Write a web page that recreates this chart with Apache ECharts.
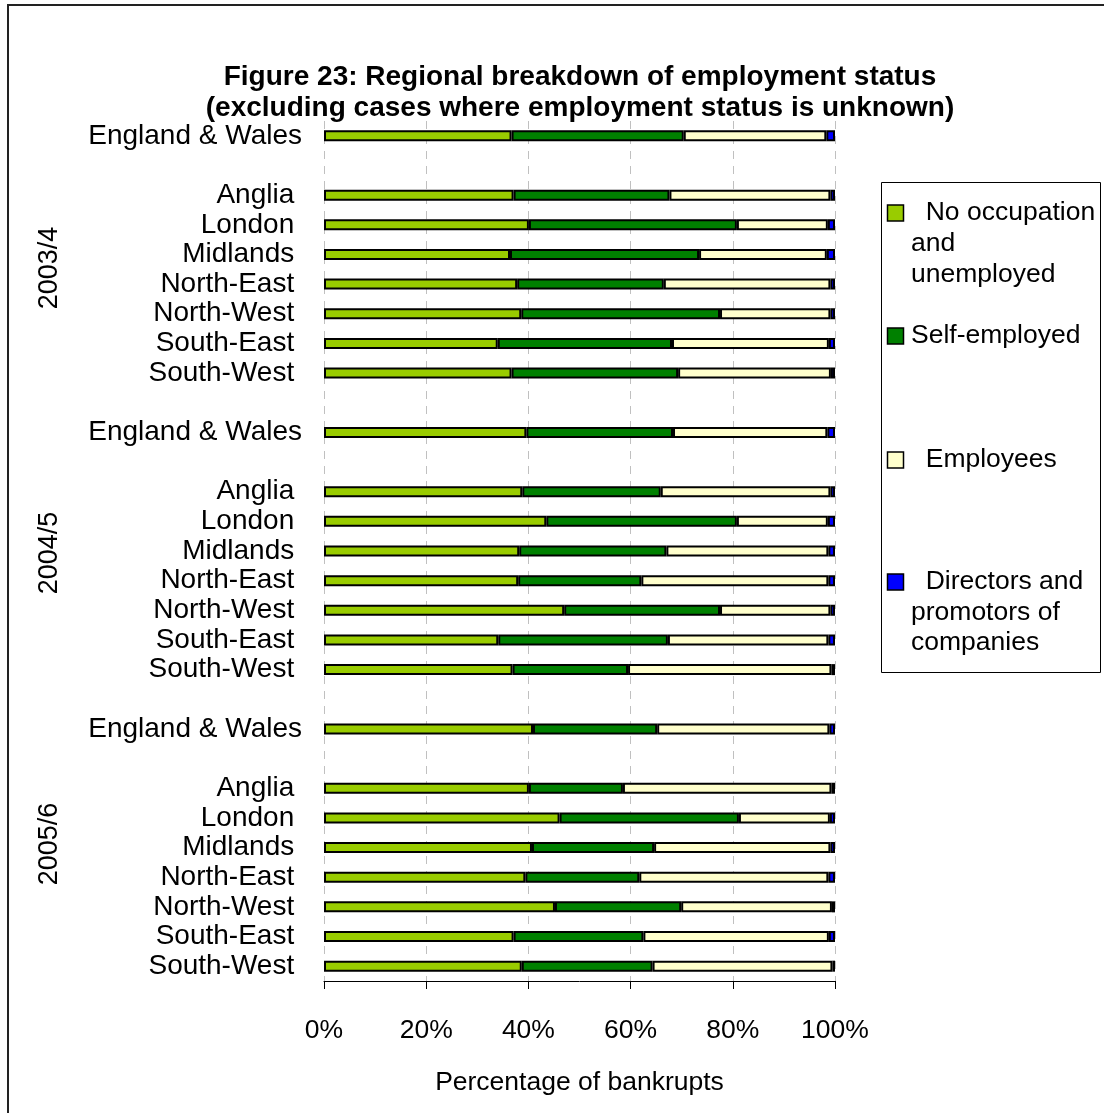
<!DOCTYPE html>
<html>
<head>
<meta charset="utf-8">
<title>Regional breakdown of employment status</title>
<script src="https://cdn.jsdelivr.net/npm/echarts@6/dist/echarts.min.js"></script>
<style>
  html, body { margin: 0; padding: 0; background: #ffffff; }
  #chart { width: 1104px; height: 1113px; }
</style>
</head>
<body>
<div id="chart"></div>
<script>
// Rows from top to bottom; empty strings are spacer rows between year groups.
const categories = [
  'England & Wales', '', 'Anglia ', 'London ', 'Midlands ', 'North-East ', 'North-West ', 'South-East ', 'South-West ', '',
  'England & Wales', '', 'Anglia ', 'London ', 'Midlands ', 'North-East ', 'North-West ', 'South-East ', 'South-West ', '',
  'England & Wales', '', 'Anglia ', 'London ', 'Midlands ', 'North-East ', 'North-West ', 'South-East ', 'South-West '
];

const yearGroups = ['2003/4', '2004/5', '2005/6'];

// Percentage of bankrupts in each employment status (per row)
const noOccupation = [36.7, null, 37.1, 40.1, 36.4, 37.8, 38.6, 34.0, 36.7, null,
                      39.6, null, 38.8, 43.5, 38.2, 38.0, 47.0, 34.1, 36.9, null,
                      40.9, null, 40.1, 46.1, 40.7, 39.4, 45.2, 37.1, 38.7];
const selfEmployed = [33.7, null, 30.5, 40.7, 37.0, 28.7, 38.9, 34.1, 32.6, null,
                      28.7, null, 27.1, 37.3, 28.8, 24.1, 30.5, 33.2, 22.6, null,
                      24.3, null, 18.4, 35.1, 23.9, 22.3, 24.7, 25.4, 25.6];
const employees    = [27.9, null, 31.5, 17.8, 25.0, 32.6, 21.6, 30.7, 29.9, null,
                      30.2, null, 33.2, 17.8, 31.7, 36.6, 21.6, 31.4, 39.8, null,
                      33.7, null, 40.8, 17.8, 34.5, 37.0, 29.5, 36.3, 35.2];
const directors    = [1.7, null, 0.9, 1.4, 1.6, 0.9, 0.9, 1.2, 0.8, null,
                      1.5, null, 0.9, 1.4, 1.3, 1.3, 0.9, 1.3, 0.7, null,
                      1.1, null, 0.7, 1.0, 0.9, 1.3, 0.6, 1.2, 0.5];

const xTicks = [0, 20, 40, 60, 80, 100];

const seriesNames = ['No occupation and unemployed', 'Self-employed', 'Employees', 'Directors and promotors of companies'];
const seriesColors = ['#99cc00', '#008000', '#ffffcc', '#0000ff'];
const seriesValues = [noOccupation, selfEmployed, employees, directors];

const FONT = '"Liberation Sans", Arial, sans-serif';

const chart = echarts.init(document.getElementById('chart'), null, { renderer: 'canvas' });

const series = seriesNames.map((name, i) => ({
  name: name,
  type: 'bar',
  stack: 'total',
  barWidth: 11,
  data: seriesValues[i],
  itemStyle: { color: seriesColors[i], borderColor: '#000000', borderWidth: 2 },
  emphasis: { disabled: true },
  animation: false
}));

// Legend box drawn beside the plot, items laid out to the right of the bars
const legendLines = [
  { color: seriesColors[0], iconY: 213, lines: [['  No occupation', 213], ['and', 244], ['unemployed', 275]] },
  { color: seriesColors[1], iconY: 336, lines: [['Self-employed', 336]] },
  { color: seriesColors[2], iconY: 460, lines: [['  Employees', 460]] },
  { color: seriesColors[3], iconY: 582, lines: [['  Directors and', 582], ['promotors of', 613], ['companies', 643]] }
];

const graphics = [
  // outer frame
  { type: 'polyline', shape: { points: [[8, 1113], [8, 5], [1104, 5]] },
    style: { stroke: '#222222', lineWidth: 2, fill: null }, silent: true },
  // legend frame
  { type: 'rect', shape: { x: 881.5, y: 182.5, width: 219, height: 490 },
    style: { fill: '#ffffff', stroke: '#000000', lineWidth: 1 }, silent: true, z: 0 }
];

legendLines.forEach(item => {
  graphics.push({ type: 'rect', shape: { x: 887.5, y: item.iconY - 8, width: 16, height: 16 },
    style: { fill: item.color, stroke: '#000000', lineWidth: 1.5 }, silent: true, z: 1 });
  item.lines.forEach(([txt, y]) => {
    graphics.push({ type: 'text', x: 911, y: y, silent: true, z: 1,
      style: { text: txt, fill: '#000000', font: '26.5px ' + FONT, textAlign: 'left', textVerticalAlign: 'middle' } });
  });
});

// Year group labels, rotated to read bottom-to-top
const yearCenters = [268, 553, 844];
yearGroups.forEach((label, i) => {
  graphics.push({ type: 'text', x: 50, y: yearCenters[i], rotation: Math.PI / 2, silent: true,
    style: { text: label, fill: '#000000', font: '27px ' + FONT, textAlign: 'center', textVerticalAlign: 'middle' } });
});

chart.setOption({
  animation: false,
  backgroundColor: '#ffffff',
  textStyle: { fontFamily: FONT },
  title: {
    text: 'Figure 23: Regional breakdown of employment status\n(excluding cases where employment status is unknown)',
    left: 580,
    top: 62,
    textAlign: 'center',
    padding: 0,
    textStyle: { fontFamily: FONT, fontWeight: 'bold', fontSize: 28, lineHeight: 31, color: '#000000' }
  },
  legend: { show: false, data: seriesNames },
  grid: { left: 324, right: 269, top: 121, bottom: 132, containLabel: false },
  xAxis: {
    type: 'value',
    min: xTicks[0],
    max: xTicks[xTicks.length - 1],
    interval: 20,
    name: 'Percentage of bankrupts',
    nameLocation: 'middle',
    nameGap: 88,
    nameTextStyle: { fontFamily: FONT, fontSize: 26.5, color: '#000000', lineHeight: 27 },
    axisLine: { show: true, lineStyle: { color: '#000000', width: 1 } },
    axisTick: { show: true, length: 8, inside: false, lineStyle: { color: '#000000', width: 1 } },
    axisLabel: { formatter: '{value}%', fontFamily: FONT, fontSize: 26.5, color: '#000000', margin: 36, lineHeight: 27 },
    splitLine: { show: true, lineStyle: { color: '#c0c0c0', type: [8, 7], width: 1 } }
  },
  yAxis: {
    type: 'category',
    data: categories,
    inverse: true,
    axisLine: { show: false },
    axisTick: { show: false },
    axisLabel: { interval: 0, fontFamily: FONT, fontSize: 28, color: '#000000', margin: 22 },
    splitLine: { show: false }
  },
  graphic: graphics,
  series: series
});
</script>
</body>
</html>
